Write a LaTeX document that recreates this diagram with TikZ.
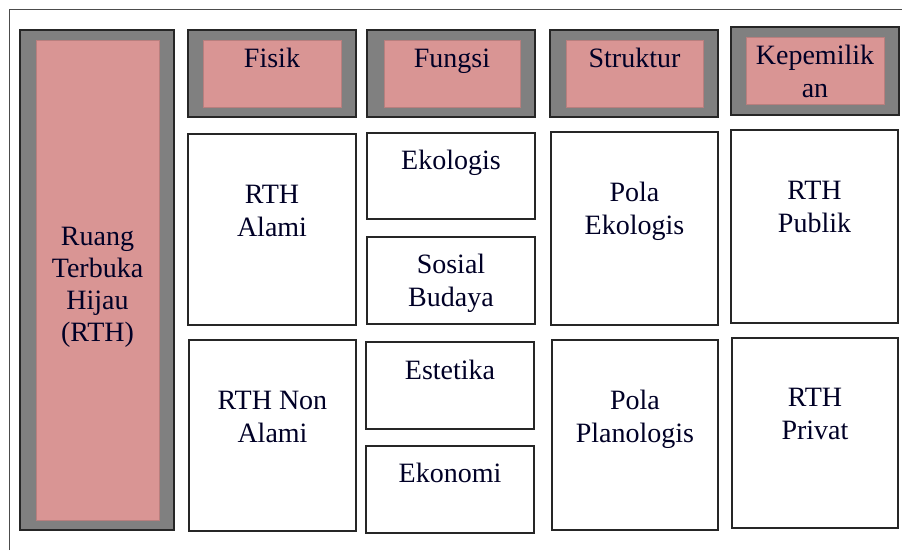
\documentclass[tikz,border=0pt]{standalone}
\usepackage{fontspec}
\setmainfont{Liberation Serif}
\definecolor{rthpink}{HTML}{D99594}
\definecolor{rthgray}{HTML}{808080}
\tikzset{
  box/.style={draw=black!85, line width=1.1pt, inner sep=0pt, outer sep=0pt},
  cell/.style={box, fill=white},
  hdr/.style={box, fill=rthgray},
  hdrin/.style={inner sep=0pt, outer sep=0pt, fill=rthpink, draw=rthpink!85!black, line width=0.5pt},
  lbl/.style={align=center, font=\fontsize{28}{33}\selectfont, text=black!85!blue, inner sep=0pt},
}

\begin{document}
\begin{tikzpicture}[x=1pt,y=-1pt]
    \useasboundingbox (0,0) rectangle (902,550);
    \draw[line width=1pt, draw=black!70] (9,550) -- (9,9) -- (902,9);

    % left column
    \node[hdr, minimum width=154, minimum height=500] (rth) at (97,280) {};
    \node[hdrin, minimum width=123, minimum height=480] (rthIn) at (97.5,280) {};
    \node[lbl, font=\fontsize{28}{32}\selectfont] (rthT) at (97.5,287) {Ruang\\Terbuka\\Hijau\\(RTH)};

    % headers
    \node[hdr, minimum width=168, minimum height=87] (fisik) at (272,73.5) {};
    \node[hdrin, minimum width=138, minimum height=67] (fisikIn) at (272,73.5) {};
    \node[lbl] (fisikT) at (272,58) {Fisik};

    \node[hdr, minimum width=168, minimum height=87] (fungsi) at (451,73.5) {};
    \node[hdrin, minimum width=136, minimum height=67] (fungsiIn) at (452,73.5) {};
    \node[lbl] (fungsiT) at (452,61) {Fungsi};

    \node[hdr, minimum width=168, minimum height=87] (struktur) at (634,73.5) {};
    \node[hdrin, minimum width=137, minimum height=67] (strukturIn) at (634.5,73.5) {};
    \node[lbl] (strukturT) at (634.5,58) {Struktur};

    \node[hdr, minimum width=168, minimum height=88] (milik) at (815,71) {};
    \node[hdrin, minimum width=138, minimum height=67] (milikIn) at (815,70.5) {};
    \node[lbl] (milikT) at (815,71.5) {Kepemilik\\an};

    % fisik
    \node[cell, minimum width=168, minimum height=191] (alami) at (272,229.5) {};
    \node[lbl] (alamiT) at (272,210.5) {RTH\\Alami};
    \node[cell, minimum width=167, minimum height=191] (nonalami) at (272.5,435.5) {};
    \node[lbl] (nonalamiT) at (272.5,416.5) {RTH Non\\Alami};

    % fungsi
    \node[cell, minimum width=168, minimum height=86] (ekologis) at (451,176) {};
    \node[lbl] (ekologisT) at (451,163) {Ekologis};
    \node[cell, minimum width=168, minimum height=87] (sosial) at (451,280.5) {};
    \node[lbl] (sosialT) at (451,283.5) {Sosial\\Budaya};
    \node[cell, minimum width=168, minimum height=87] (estetika) at (450,385.5) {};
    \node[lbl] (estetikaT) at (450,370) {Estetika};
    \node[cell, minimum width=168, minimum height=87] (ekonomi) at (450,489.5) {};
    \node[lbl] (ekonomiT) at (450,473) {Ekonomi};

    % struktur
    \node[cell, minimum width=167, minimum height=193] (polaeko) at (634.5,228.5) {};
    \node[lbl] (polaekoT) at (634.5,211) {Pola\\Ekologis};
    \node[cell, minimum width=166, minimum height=190] (polapla) at (635,435) {};
    \node[lbl] (polaplaT) at (635,419.5) {Pola\\Planologis};

    % kepemilikan
    \node[cell, minimum width=167, minimum height=193] (publik) at (814.5,226.5) {};
    \node[lbl] (publikT) at (814.5,206.5) {RTH\\Publik};
    \node[cell, minimum width=166, minimum height=190] (privat) at (815,433) {};
    \node[lbl] (privatT) at (815,413.5) {RTH\\Privat};
\end{tikzpicture}
\end{document}
